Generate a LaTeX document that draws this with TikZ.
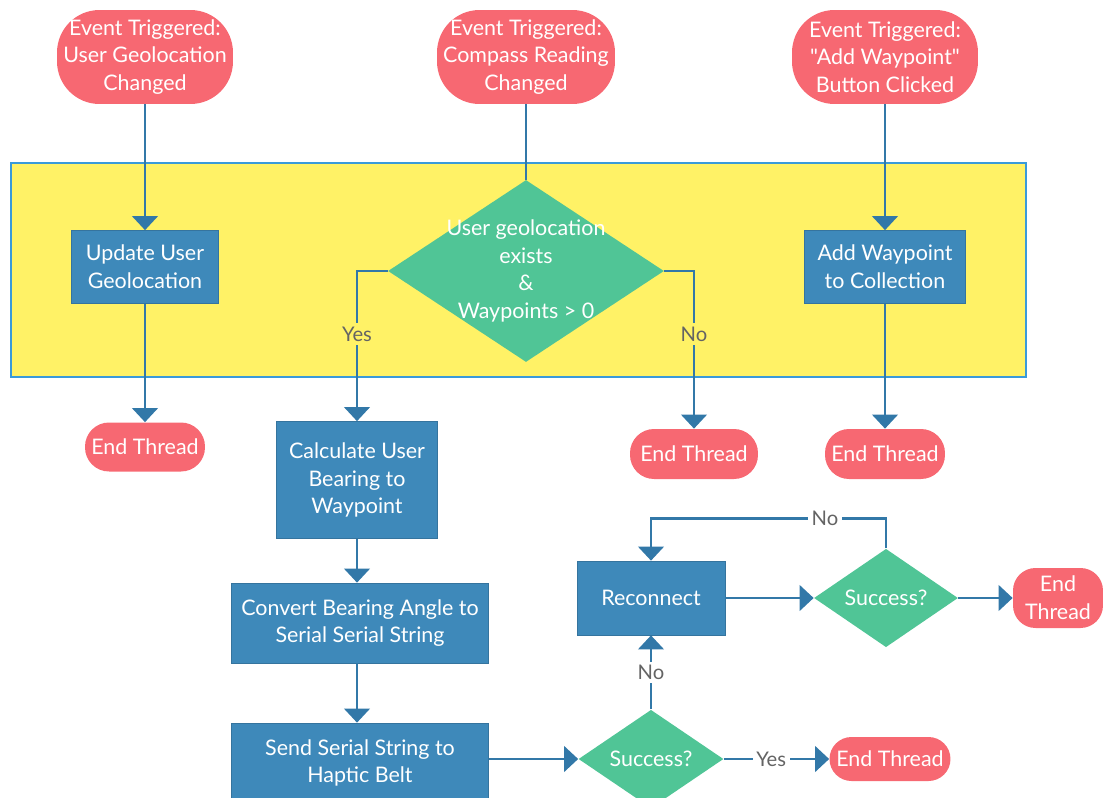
\documentclass[tikz,border=0pt]{standalone}
\usepackage{fontspec}
\setmainfont{Lato}
\newfontfamily\plainlato{Lato}
\usetikzlibrary{shapes.geometric, arrows.meta, positioning}
\definecolor{termred}{RGB}{247,104,114}
\definecolor{procblue}{RGB}{62,137,186}
\definecolor{decgreen}{RGB}{80,197,150}
\definecolor{lineblue}{RGB}{50,120,168}
\definecolor{frameyellow}{RGB}{255,242,102}
\definecolor{frameedge}{RGB}{58,154,217}
\definecolor{labelgray}{RGB}{100,100,100}

\tikzset{
  startterm/.style={fill=termred, text=white, align=center, rounded corners=0.85cm,
    minimum height=1.88cm, inner sep=0pt, font=\fontsize{12.2}{15.8}\selectfont},
  endterm/.style={fill=termred, text=white, align=center, rounded corners=0.48cm,
    minimum height=0.98cm, inner sep=0pt, font=\fontsize{12.2}{15.8}\selectfont},
  procbox/.style={fill=procblue, text=white, align=center, draw=procblue!85!black, line width=0.4pt,
    inner sep=0pt, font=\fontsize{12.2}{15.8}\selectfont},
  decbox/.style={diamond, fill=decgreen, text=white, align=center, inner sep=0pt,
    font=\fontsize{12.2}{15.8}\selectfont},
  flow/.style={draw=lineblue, line width=1.6pt, -{Triangle[width=14.5pt, length=8pt]}},
  plain/.style={draw=lineblue, line width=1.6pt},
  lbl/.style={fill=white, text=labelgray, inner sep=2pt, font=\fontsize{11.5}{14}\selectfont},
  lblin/.style={lbl, fill=frameyellow}
}

\begin{document}
\begin{tikzpicture}[x=0.02cm, y=-0.02cm]
 \useasboundingbox (0,0) rectangle (1103,798);
 \clip (0,0) rectangle (1103,798);

 % the shared handler block
 \draw[fill=frameyellow, draw=frameedge, line width=1.6pt] (11,163) rectangle (1026,377);

 % three event triggers
 \node[startterm, minimum width=3.52cm] (geoevt) at (145,57) {Event Triggered:\\User Geolocation\\Changed};
 \node[startterm, minimum width=3.56cm] (compevt) at (526,57) {Event Triggered:\\Compass Reading\\Changed};
 \node[startterm, minimum width=3.72cm] (wayevt) at (885,57) {Event Triggered:\\{\plainlato "Add Waypoint"}\\Button Clicked};

 % inside the block
 \node[procbox, minimum width=2.94cm, minimum height=1.46cm] (updgeo) at (145,267) {Update User\\Geolocation};
 \node[decbox, minimum width=5.52cm, minimum height=3.64cm,
   label={[text=white, align=center, font=\fontsize{12.2}{15.8}\selectfont]center:User geolocation\\exists\\\&\\Waypoints > 0}] (check) at (526,271) {};
 \node[procbox, minimum width=3.22cm, minimum height=1.46cm] (addway) at (885,267) {Add Waypoint\\to Collection};

 % end of the short threads
 \node[endterm, minimum width=2.4cm] (endgeo) at (145,447) {End Thread};
 \node[endterm, minimum width=2.56cm, minimum height=1.0cm] (endno) at (694,454) {End Thread};
 \node[endterm, minimum width=2.4cm, minimum height=1.0cm] (endway) at (885,454) {End Thread};

 % bearing chain
 \node[procbox, minimum width=3.22cm, minimum height=2.34cm] (calcbear) at (357,480) {Calculate User\\Bearing to\\Waypoint};
 \node[procbox, minimum width=5.14cm, minimum height=1.6cm] (convbear) at (360,623) {Convert Bearing Angle to\\Serial Serial String};
 \node[procbox, minimum width=5.14cm, minimum height=1.6cm] (sendbelt) at (360,763) {Send Serial String to\\Haptic Belt};

 % reconnect loop
 \node[decbox, minimum width=2.9cm, minimum height=1.72cm] (sendok) at (651,759) {Success?};
 \node[procbox, minimum width=2.96cm, minimum height=1.48cm] (reconn) at (651,598) {Reconnect};
 \node[decbox, minimum width=2.88cm, minimum height=1.74cm] (reconok) at (886,598) {Success?};
 \node[endterm, minimum width=1.8cm, minimum height=1.2cm, rounded corners=0.45cm] (endrecon) at (1058,598) {End\\Thread};
 \node[endterm, minimum width=2.42cm, minimum height=0.88cm, rounded corners=0.44cm] (endsend) at (890,759) {End Thread};

 % connectors
 \draw[flow] (geoevt) -- (updgeo);
 \draw[plain] (compevt) -- (check.north);
 \draw[flow] (wayevt) -- (addway);
 \draw[flow] (updgeo) -- (endgeo);
 \draw[flow] (addway) -- (endway);
 \draw[flow] (check.west) -| node[lblin, pos=0.71] {Yes} (calcbear.north);
 \draw[flow] (check.east) -| node[lblin, pos=0.7] {No} (endno.north);
 \draw[flow] (calcbear.south) -- (calcbear.south |- convbear.north);
 \draw[flow] (calcbear.south |- convbear.south) -- (calcbear.south |- sendbelt.north);
 \draw[flow] (sendbelt.east |- sendok.west) -- (sendok.west);
 \draw[flow] (sendok.north) -- node[lbl] {No} (reconn.south);
 \draw[flow] (sendok.east) -- node[lbl, pos=0.45] {Yes} (endsend.west);
 \draw[flow] (reconn.east) -- (reconok.west);
 \draw[flow] (reconok.east) -- (endrecon.west);
 \draw[flow] (reconok.north) -- ++(0,-30) -| node[lbl, pos=0.13] {No} (reconn.north);
\end{tikzpicture}
\end{document}
